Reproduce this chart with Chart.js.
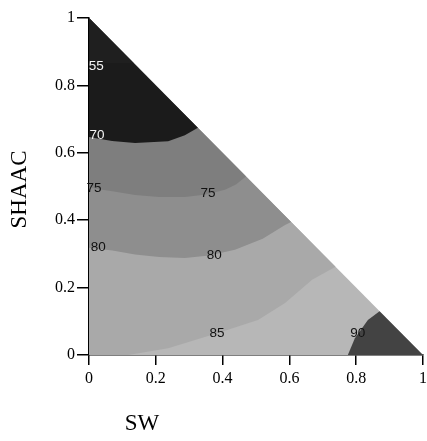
<!DOCTYPE html>
<html>
<head>
<meta charset="utf-8">
<script src="https://cdn.jsdelivr.net/npm/chart.js@4/dist/chart.umd.min.js"></script>
<style>
  html, body { margin: 0; padding: 0; background: #fff; }
  #wrap { width: 427px; height: 441px; }
</style>
</head>
<body>
<div id="wrap"><canvas id="c" width="427" height="441"></canvas></div>
<script>
// ---- data ----
const xTickValues = [0, 0.2, 0.4, 0.6, 0.8, 1];
const xTickLabels = ['0', '0.2', '0.4', '0.6', '0.8', '1'];
const yTickValues = [0, 0.2, 0.4, 0.6, 0.8, 1];
const yTickLabels = ['0', '0.2', '0.4', '0.6', '0.8', '1'];

// contour lines (SW, SHAAC)
const contour55 = [[0, 0.866], [0.134, 0.866]];
const contour70 = [[0, 0.647], [0.069, 0.635], [0.138, 0.629], [0.237, 0.634], [0.287, 0.652], [0.326, 0.674]];
const contour75 = [[0, 0.496], [0.07, 0.486], [0.138, 0.475], [0.21, 0.469], [0.287, 0.469], [0.35, 0.476], [0.407, 0.49], [0.44, 0.506], [0.47, 0.53]];
const contour80 = [[0, 0.318], [0.07, 0.31], [0.138, 0.298], [0.21, 0.291], [0.287, 0.288], [0.36, 0.295], [0.437, 0.312], [0.52, 0.345], [0.587, 0.386], [0.605, 0.395]];
const contour85 = [[0.117, 0], [0.237, 0.02], [0.386, 0.065], [0.506, 0.104], [0.587, 0.154], [0.668, 0.223], [0.738, 0.262]];
const contour90 = [[0.775, 0], [0.796, 0.05], [0.835, 0.104], [0.87, 0.13]];

// contour labels
const labelTexts = ['55', '70', '75', '75', '80', '80', '85', '90'];
const labelX = [0.022, 0.024, 0.015, 0.356, 0.028, 0.375, 0.383, 0.805];
const labelY = [0.858, 0.651, 0.496, 0.479, 0.321, 0.296, 0.063, 0.063];
const labelDark = [false, false, true, true, true, true, true, true];

// ---- build polygons ----
const pts = a => a.map(p => ({x: p[0], y: p[1]}));
const triangle = [[0, 0], [1, 0], [0, 1]];
const above = c => (c[0][1] === 0 ? [[0, 0]] : []).concat(c, [[0, 1]]);

const regions = [
  {poly: triangle, color: '#b7b7b7'},
  {poly: above(contour85), color: '#a9a9a9'},
  {poly: above(contour80), color: '#8e8e8e'},
  {poly: above(contour75), color: '#7e7e7e'},
  {poly: above(contour70), color: '#1b1b1b'},
  {poly: above(contour55), color: '#1f1f1f'},
  {poly: contour90.concat([[1, 0]]), color: '#434343'}
];

const datasets = regions.map((r, i) => ({
  data: pts(r.poly),
  showLine: true,
  fill: 'shape',
  backgroundColor: r.color,
  borderColor: r.color,
  borderWidth: 0,
  pointRadius: 0,
  tension: 0,
  order: regions.length - i
}));

const textPlugin = {
  id: 'texts',
  afterDatasetsDraw(chart) {
    const {ctx, scales: {x, y}} = chart;
    ctx.save();
    ctx.font = '13.5px "Liberation Sans", Arial, sans-serif';
    ctx.textAlign = 'center';
    ctx.textBaseline = 'middle';
    labelTexts.forEach((t, i) => {
      ctx.fillStyle = labelDark[i] ? '#111' : '#f4f4f4';
      ctx.fillText(t, x.getPixelForValue(labelX[i]), y.getPixelForValue(labelY[i]));
    });
    ctx.restore();
  },
  afterDraw(chart) {
    const {ctx, chartArea} = chart;
    ctx.save();
    ctx.fillStyle = '#000';
    ctx.font = '23px "Liberation Serif", "Times New Roman", serif';
    ctx.textAlign = 'center';
    ctx.textBaseline = 'middle';
    ctx.fillText('SW', chartArea.left + 53, chartArea.bottom + 69);
    ctx.translate(chartArea.left - 69, (chartArea.top + chartArea.bottom) / 2 + 3);
    ctx.rotate(-Math.PI / 2);
    ctx.fillText('SHAAC', 0, 0);
    ctx.restore();
  }
};

const tickFont = {family: '"Liberation Serif", "Times New Roman", serif', size: 16};

new Chart(document.getElementById('c'), {
  type: 'scatter',
  data: {datasets},
  plugins: [textPlugin],
  options: {
    responsive: false,
    animation: false,
    devicePixelRatio: 1,
    layout: {padding: {left: 0, right: 0, top: 18, bottom: 0}},
    plugins: {legend: {display: false}, tooltip: {enabled: false}},
    scales: {
      x: {
        type: 'linear', min: 0, max: 1,
        afterBuildTicks: s => { s.ticks = xTickValues.map(v => ({value: v})); },
        afterFit: s => { s.height = 86; s.paddingRight = 4; s.paddingLeft = 0; },
        ticks: {
          color: '#000', font: tickFont, padding: 4, maxRotation: 0,
          callback: (v, i) => xTickLabels[i]
        },
        grid: {display: true, drawOnChartArea: false, drawTicks: true, tickLength: 10, color: '#000', lineWidth: 1.5},
        border: {display: true, color: '#000', width: 1.5}
      },
      y: {
        type: 'linear', min: 0, max: 1,
        afterBuildTicks: s => { s.ticks = yTickValues.map(v => ({value: v})); },
        afterFit: s => { s.width = 89; },
        ticks: {
          color: '#000', font: tickFont, padding: 2,
          callback: (v, i) => yTickLabels[i]
        },
        grid: {display: true, drawOnChartArea: false, drawTicks: true, tickLength: 12, color: '#000', lineWidth: 1.5},
        border: {display: true, color: '#000', width: 1.5}
      }
    }
  }
});
</script>
</body>
</html>
